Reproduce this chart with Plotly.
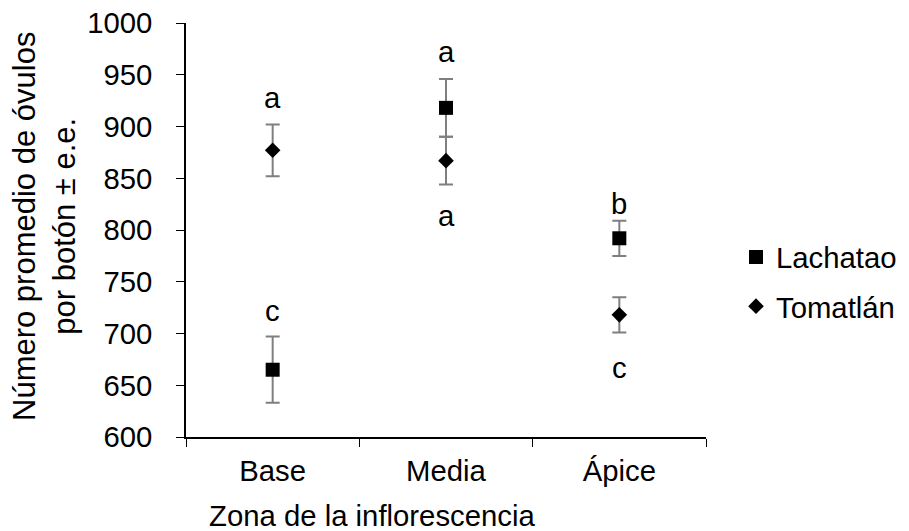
import plotly.graph_objects as go

# Zona de la inflorescencia
zonas = ["Base", "Media", "Ápice"]

# Número promedio de óvulos por botón y error estándar
lachatao_media = [665, 918, 792]
lachatao_ee = [32, 28, 17]
tomatlan_media = [877, 867, 718]
tomatlan_ee = [25, 23, 17]

# Letras de significancia y su altura sobre el eje
lachatao_letras = ["c", "a", "b"]
lachatao_letras_y = [722, 972, 826]
tomatlan_letras = ["a", "a", "c"]
tomatlan_letras_y = [928, 814, 667]

FONT = "Liberation Sans, Arial, sans-serif"
FS = 29.3
ERR = "#7f7f7f"

L, R, T, B = 186, 203, 23, 94
W, H = 909, 531
PW, PH = W - L - R, H - T - B

fig = go.Figure()
fig.add_trace(go.Scatter(
    x=zonas, y=lachatao_media, mode="markers", name="Lachatao",
    legendgroup="l",
    marker=dict(symbol="square", size=14, color="#000000"),
    error_y=dict(type="data", array=lachatao_ee, color=ERR, thickness=2, width=7),
))
fig.add_trace(go.Scatter(
    x=zonas, y=tomatlan_media, mode="markers", name="Tomatlán",
    legendgroup="t",
    marker=dict(symbol="diamond", size=12, color="#000000"),
    error_y=dict(type="data", array=tomatlan_ee, color=ERR, thickness=2, width=7),
))

for z, t, yy in zip(zonas, lachatao_letras, lachatao_letras_y):
    fig.add_annotation(x=z, y=yy, text=t, showarrow=False,
                       font=dict(family=FONT, size=FS, color="#000000"))
for z, t, yy in zip(zonas, tomatlan_letras, tomatlan_letras_y):
    fig.add_annotation(x=z, y=yy, text=t, showarrow=False,
                       font=dict(family=FONT, size=FS, color="#000000"))

# Títulos de los ejes
fig.add_annotation(x=(372 - L) / PW, y=-(515 - T - PH) / PH, xref="paper", yref="paper",
                   text="Zona de la inflorescencia", showarrow=False,
                   font=dict(family=FONT, size=FS, color="#000000"),
                   xanchor="center", yanchor="middle")
fig.add_annotation(x=-(L - 44) / PW, y=(T + PH - 227) / PH, xref="paper", yref="paper",
                   text="Número promedio de óvulos<br>por botón ± e.e.", showarrow=False,
                   textangle=-90, font=dict(family=FONT, size=31, color="#000000"),
                   xanchor="center", yanchor="middle")

fig.update_layout(
    width=W, height=H,
    margin=dict(l=L, r=R, t=T, b=B, autoexpand=False),
    paper_bgcolor="#ffffff", plot_bgcolor="#ffffff",
    font=dict(family=FONT, size=FS, color="#000000"),
    showlegend=True,
    legend=dict(x=(736 - L) / PW, y=(T + PH - 282) / PH, xanchor="left", yanchor="middle",
                font=dict(family=FONT, size=FS, color="#000000"),
                tracegroupgap=8, itemwidth=30),
    xaxis=dict(
        type="category", range=[-0.5, 2.5], automargin=False,
        showline=True, linecolor="#000000", linewidth=1.5,
        ticks="outside", tickson="boundaries", ticklen=8, tickcolor="#000000",
        showgrid=False, zeroline=False, ticklabelstandoff=7,
        tickfont=dict(family=FONT, size=FS),
    ),
    yaxis=dict(
        range=[600, 1000], dtick=50, automargin=False,
        showline=True, linecolor="#000000", linewidth=1.5,
        ticks="outside", ticklen=8, tickcolor="#000000",
        showgrid=False, zeroline=False, ticklabelstandoff=18,
        tickfont=dict(family=FONT, size=FS),
    ),
)

fig.write_html("out.html")
